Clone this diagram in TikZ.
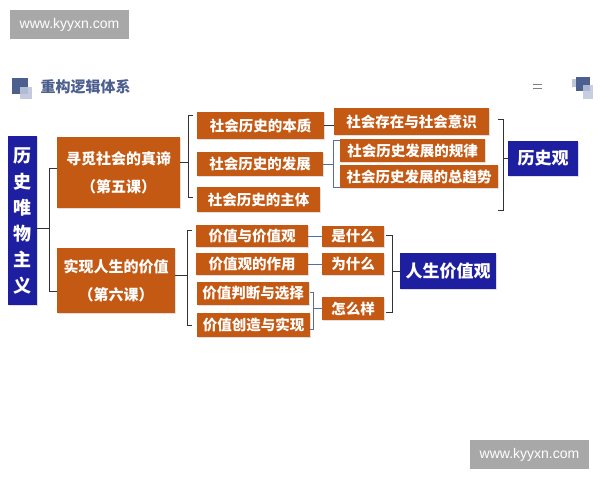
\documentclass[tikz,border=0pt]{standalone}
\usepackage{fontspec}
\setmainfont{Noto Sans CJK SC}
\newfontfamily\wmfont{Liberation Sans}
\usetikzlibrary{shadows}
\definecolor{orangebox}{RGB}{196,89,20}
\definecolor{bluebox}{RGB}{30,30,160}
\definecolor{titlecol}{RGB}{77,95,143}
\definecolor{iconlight}{RGB}{190,198,220}
\definecolor{brkblue}{RGB}{80,110,170}
\definecolor{wmgray}{RGB}{168,168,168}
\tikzset{
  obox/.style={draw=none, fill=orangebox, text=white, inner sep=0pt,
    font=\fontsize{14.5}{17}\selectfont\bfseries,
    drop shadow={shadow xshift=1pt, shadow yshift=-1.2pt, opacity=0.25}},
  bbox/.style={draw=none, fill=bluebox, text=white, inner sep=0pt,
    font=\fontsize{17}{20}\selectfont\bfseries,
    drop shadow={shadow xshift=1pt, shadow yshift=-1.2pt, opacity=0.25}},
  brk/.style={draw=black!80, line width=0.8pt},
  sbrk/.style={draw=brkblue, line width=0.8pt},
  wm/.style={fill=wmgray, text=white, inner sep=0pt, font=\wmfont\fontsize{14}{16}\selectfont},
}
\begin{document}
\begin{tikzpicture}[x=1pt, y=-1pt]
\useasboundingbox[fill=white] (0,0) rectangle (600,480);

% watermarks
\node[wm, minimum width=119, minimum height=29] (wm1) at (69.5,24.5) {www.kyyxn.com};
\node[wm, minimum width=119, minimum height=29] (wm2) at (529.5,454.5) {www.kyyxn.com};

% title
\fill[titlecol] (12,78) rectangle (28,94);
\fill[iconlight, opacity=0.9] (20,87) rectangle (32,99);
\node[anchor=west, text=titlecol, font=\fontsize{15}{17}\selectfont\bfseries] (title) at (37,86.5) {重构逻辑体系};
\draw[gray, line width=0.7pt] (533,84.5) -- (542,84.5) (533,88.5) -- (542,88.5);
\fill[iconlight] (572,79) rectangle (580,87);
\fill[titlecol] (576,77) rectangle (590,91);
\fill[iconlight, opacity=0.85] (583,85) rectangle (593,99);

% main
\node[bbox, minimum width=29, minimum height=169, font=\fontsize{18}{26}\selectfont\bfseries, align=center] (main) at (22.5,220.5) {历\\史\\唯\\物\\主\\义};

\node[obox, minimum width=123, minimum height=71, align=center, font=\fontsize{15}{28}\selectfont\bfseries] (c5) at (118.5,172.5) {寻觅社会的真谛\\（第五课）};
\node[obox, minimum width=118, minimum height=65, align=center, font=\fontsize{15}{28}\selectfont\bfseries] (c6) at (116,280.5) {实现人生的价值\\（第六课）};

% level 2 upper
\node[obox, minimum width=127, minimum height=27] (bz) at (260.5,125.5) {社会历史的本质};
\node[obox, minimum width=126, minimum height=24] (fz) at (260,164) {社会历史的发展};
\node[obox, minimum width=123, minimum height=25] (zt) at (258.5,199.5) {社会历史的主体};

% level 3 upper
\node[obox, minimum width=155, minimum height=27] (cz) at (411.5,121.5) {社会存在与社会意识};
\node[obox, minimum width=145, minimum height=23] (gl) at (412.5,150.5) {社会历史发展的规律};
\node[obox, minimum width=158, minimum height=23] (qs) at (419,176.5) {社会历史发展的总趋势};

\node[bbox, minimum width=70, minimum height=35] (lsg) at (543,158.5) {历史观};

% lower
\node[obox, minimum width=112, minimum height=22] (jz) at (252,236) {价值与价值观};
\node[obox, minimum width=112, minimum height=22] (zy) at (252,264) {价值观的作用};
\node[obox, minimum width=112, minimum height=23] (pd) at (253,293.5) {价值判断与选择};
\node[obox, minimum width=113, minimum height=24] (cs) at (253.5,325) {价值创造与实现};

\node[obox, minimum width=62, minimum height=21] (ssm) at (353,236.5) {是什么};
\node[obox, minimum width=62, minimum height=22] (wsm) at (353,264) {为什么};
\node[obox, minimum width=62, minimum height=23] (zmy) at (353,308.5) {怎么样};

\node[bbox, minimum width=96, minimum height=36] (rs) at (448,271) {人生价值观};

% bracket: main -> c5, c6
\coordinate (m0) at (49,228);
\draw[brk] (main.east |- m0) -- (m0);
\draw[brk] (c5.west |- 0,168) -- (49,168) -- (49,291) -- (c6.west |- 0,291);

% bracket: c5 -> level 2
\coordinate (m1) at (188,162);
\draw[brk] (c5.east |- m1) -- (m1);
\draw[brk] (193,115) -- (188,115) -- (188,197) -- (193,197);

% bz -> cz
\draw[brk] (bz.east) -- (cz.west |- bz.east);

% small bracket fz -> gl, qs
\coordinate (m2) at (333,164);
\draw[sbrk] (fz.east |- m2) -- (m2);
\draw[sbrk] (gl.west |- 0,140) -- (333,140) -- (333,187) -- (qs.west |- 0,187);

% big bracket -> 历史观
\coordinate (m3) at (503,158.5);
\draw[brk] (498,119) -- (503,119) -- (503,210) -- (498,210);
\draw[brk] (m3) -- (lsg.west);

% bracket: c6 -> lower
\coordinate (m4) at (187,275);
\draw[brk] (c6.east |- m4) -- (m4);
\draw[brk] (192,230) -- (187,230) -- (187,325) -- (192,325);

% lines to right
\draw[sbrk] (jz.east) -- (ssm.west |- jz.east);
\draw[sbrk] (zy.east) -- (wsm.west |- zy.east);

% small bracket pd, cs -> 怎么样
\coordinate (m5) at (313,308.5);
\draw[sbrk] (310,292) -- (313,292) -- (313,329) -- (310,329);
\draw[sbrk] (m5) -- (zmy.west);

% big bracket -> 人生价值观
\coordinate (m6) at (392,271);
\draw[brk] (386,235) -- (392,235) -- (392,312) -- (386,312);
\draw[brk] (m6) -- (rs.west);
\end{tikzpicture}
\end{document}
